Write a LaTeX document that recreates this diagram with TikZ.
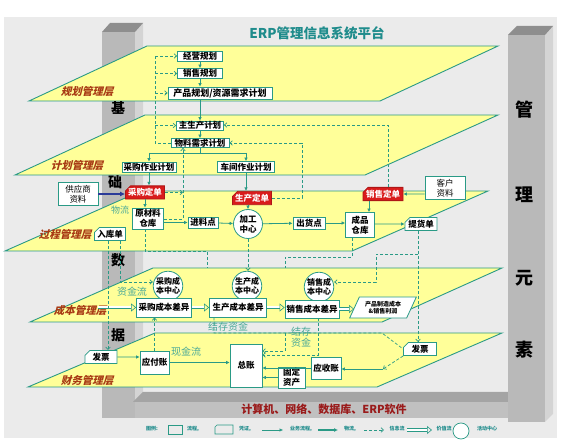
\documentclass[tikz,border=0pt]{standalone}
\usepackage{fontspec}
\newfontfamily\cjk{Noto Sans CJK SC}
\newfontfamily\cjksl[FakeSlant=0.25]{Noto Sans CJK SC}
\usetikzlibrary{arrows.meta,shapes.misc,shapes.geometric}
\definecolor{bgc}{HTML}{EBEBEB}
\definecolor{lay}{HTML}{FFFF99}
\definecolor{lc}{HTML}{2A9A86}
\definecolor{tc}{HTML}{1F8C8C}
\definecolor{ordc}{HTML}{D91C1C}
\definecolor{labc}{HTML}{A83A14}
\definecolor{pfr}{HTML}{B9B9B9}
\definecolor{psd}{HTML}{D4D4D4}
\definecolor{ptp}{HTML}{8E8E8E}
\definecolor{navy}{HTML}{2B3A99}
\definecolor{dred}{HTML}{9A1B1B}
\tikzset{
  layer/.style={fill=lay,draw=lc,line width=.9pt},
  box/.style={draw=lc,fill=white,line width=.8pt,inner sep=0pt,align=center,
    font=\cjk\bfseries\fontsize{8.5}{9.5}\selectfont},
  voucher/.style={box,chamfered rectangle,chamfered rectangle corners=north west,
    chamfered rectangle xsep=2.5pt,chamfered rectangle ysep=2.5pt},
  order/.style={voucher,fill=ordc,draw=ordc!80!black,text=white},
  hub/.style={box,circle,minimum size=29pt,font=\cjk\bfseries\fontsize{8}{9.5}\selectfont},
  biz/.style={draw=lc,line width=.8pt,-{Latex[length=3.5pt,width=3.5pt]}},
  info/.style={draw=lc,line width=.7pt,dash pattern=on 3pt off 2pt,
    -{Straight Barb[length=2.5pt,width=4.5pt]}},
  infol/.style={draw=lc,line width=.7pt,dash pattern=on 3pt off 2pt},
  val/.style={draw=lc,line width=.6pt,double=white,double distance=2pt,
    -{Triangle[open,length=5pt,width=8pt]}},
  lname/.style={text=labc,font=\cjksl\bfseries\fontsize{10.5}{11}\selectfont},
  fnote/.style={text=lc!85!white,font=\cjk\fontsize{10}{11}\selectfont},
  pch/.style={font=\cjk\bfseries\fontsize{14}{14}\selectfont},
  mch/.style={font=\cjk\bfseries\fontsize{18}{18}\selectfont},
  lgd/.style={text=tc,font=\cjk\bfseries\fontsize{5}{5}\selectfont}
}
\begin{document}
\begin{tikzpicture}[x=1pt,y=-1pt]
\useasboundingbox (0,0) rectangle (566,443);
\fill[bgc] (4,17) rectangle (557,438);
% pillars and base
\fill[pfr] (102,32) rectangle (135,418);
\fill[psd] (135,32) -- (143,23) -- (143,410) -- (135,418) -- cycle;
\fill[ptp] (102,32) -- (110,23) -- (143,23) -- (135,32) -- cycle;
\fill[pfr!90!white] (135,402) rectangle (508,418);
\fill[ptp!80!white] (133,402) -- (143,392) -- (508,392) -- (508,402) -- cycle;
\fill[pfr] (508,35) rectangle (545,422);
\fill[psd] (545,35) -- (553,26) -- (553,414) -- (545,422) -- cycle;
\fill[ptp] (508,35) -- (517,26) -- (553,26) -- (545,35) -- cycle;
% layers
\draw[layer] (147,46) -- (498,46) -- (380,101) -- (29,101) -- cycle;
\draw[layer] (145,115) -- (498,115) -- (365,175) -- (15,175) -- cycle;
\draw[layer] (141,191) -- (488,191) -- (352,251) -- (5,251) -- cycle;
\draw[layer] (153,268) -- (502,268) -- (382,322) -- (30,322) -- cycle;
\draw[layer] (155,333) -- (502,333) -- (377,387) -- (28,387) -- cycle;

\node[text=tc,font=\cjk\bfseries\fontsize{13.5}{14}\selectfont] (title) at (317,33) {ERP管理信息系统平台};
\node[text=dred,font=\cjk\bfseries\fontsize{11}{11}\selectfont] (soft) at (324,409) {计算机、网络、数据库、ERP软件};
\node[pch] (j1) at (118,108) {基};
\node[pch] (j2) at (115,182) {础};
\node[pch] (j3) at (118,260) {数};
\node[pch] (j4) at (118,335) {据};
\node[mch] (m1) at (524,110) {管};
\node[mch] (m2) at (524,195) {理};
\node[mch] (m3) at (524,278) {元};
\node[mch] (m4) at (524,350) {素};

\node[lname] (l1) at (87,92) {规划管理层};
\node[lname] (l2) at (77,166) {计划管理层};
\node[lname] (l3) at (65,235) {过程管理层};
\node[lname] (l4) at (80,311) {成本管理层};
\node[lname] (l5) at (87,381) {财务管理层};

% planning
\node[box,minimum width=45pt,minimum height=10pt] (jy) at (200,56) {经营规划};
\node[box,minimum width=45pt,minimum height=10pt] (xs) at (200,73.5) {销售规划};
\node[box,minimum width=104pt,minimum height=12pt,font=\cjk\bfseries\fontsize{9}{10}\selectfont] (cp) at (220,93) {产品规划/资源需求计划};
\node[box,minimum width=47pt,minimum height=9pt] (zsc) at (200,125.5) {主生产计划};
\node[box,minimum width=58pt,minimum height=9pt] (wl) at (200,143) {物料需求计划};
\node[box,minimum width=54pt,minimum height=10pt] (cg) at (149,167) {采购作业计划};
\node[box,minimum width=57pt,minimum height=11pt] (cj) at (246,167) {车间作业计划};
% process
\node[box,minimum width=40pt,minimum height=23pt,font=\cjk\fontsize{8.5}{10}\selectfont] (gys) at (78,194) {供应商\\资料};
\node[order,minimum width=39pt,minimum height=11pt] (cgd) at (145,192.5) {采购定单};
\node[order,minimum width=39pt,minimum height=11pt] (scd) at (252,198) {生产定单};
\node[order,minimum width=40pt,minimum height=12pt] (xsd) at (383,194) {销售定单};
\node[box,minimum width=40pt,minimum height=23pt,font=\cjk\fontsize{8.5}{10}\selectfont] (kh) at (445,188) {客户\\资料};
\node[box,minimum width=31pt,minimum height=21pt] (ycl) at (148,218.5) {原材料\\仓库};
\node[box,minimum width=30pt,minimum height=11pt] (jl) at (203,222.5) {进料点};
\node[hub,font=\cjk\bfseries\fontsize{8.5}{10}\selectfont] (jg) at (248,224) {加工\\中心};
\node[box,minimum width=32pt,minimum height=12pt] (ch) at (309,223) {出货点};
\node[box,minimum width=29pt,minimum height=25pt] (cpk) at (360,225) {成品\\仓库};
\node[voucher,minimum width=32pt,minimum height=12pt] (th) at (421,224) {提货单};
\node[voucher,minimum width=31pt,minimum height=12pt] (rk) at (110,234) {入库单};
\node[fnote,font=\cjk\fontsize{9}{9}\selectfont] (wlt) at (120,210) {物流};
% cost
\node[hub,minimum size=28pt] (cgc) at (168,286) {采购成\\本中心};
\node[hub,minimum size=28pt] (scc) at (247,286) {生产成\\本中心};
\node[hub,minimum size=28pt] (xsc) at (319,287) {销售成\\本中心};
\node[box,minimum width=55pt,minimum height=19pt] (cgy) at (164,307.5) {采购成本差异};
\node[box,minimum width=57pt,minimum height=19pt] (scy) at (238,307.5) {生产成本差异};
\node[box,minimum width=54pt,minimum height=18pt] (xsy) at (312,309) {销售成本差异};
\node[box,trapezium,trapezium left angle=60,trapezium right angle=120,trapezium stretches=true,
  minimum width=67pt,minimum height=21pt,font=\cjk\bfseries\fontsize{6}{7}\selectfont] (lr) at (383,307.5) {产品制造成本\\\&销售利润};
\node[fnote] (zjl) at (132,292) {资金流};
% finance
\node[voucher,minimum width=32pt,minimum height=12pt] (fp1) at (101,357) {发票};
\node[box,minimum width=29pt,minimum height=23pt] (yf) at (154.5,362.5) {应付账};
\node[box,minimum width=32pt,minimum height=43pt] (zz) at (246,365.5) {总账};
\node[box,minimum width=27pt,minimum height=21pt] (gd) at (291.5,377.5) {固定\\资产};
\node[box,minimum width=30pt,minimum height=22pt] (ys) at (326,368) {应收账};
\node[voucher,minimum width=33pt,minimum height=13pt] (fp2) at (420,349) {发票};
\node[fnote] (xjl) at (186,352) {现金流};
\node[fnote] (jc1) at (228,327) {结存资金};
\node[fnote,align=center,font=\cjk\fontsize{10}{11}\selectfont] (jc2) at (301,337.5) {结存\\资金};

% business flow
\coordinate (br) at (200,153);
\coordinate (jz) at (383,369);
\draw[biz] (jy) -- (xs);
\draw[biz] (xs) -- (xs |- cp.north);
\draw[biz] (zsc |- cp.south) -- (zsc);
\draw[biz] (zsc) -- (wl);
\draw[lc,line width=.8pt] (wl) -- (br) (br -| cg) -- (br -| cj);
\draw[biz] (br -| cg) -- (cg);
\draw[biz] (br -| cj) -- (cj);
\draw[biz] (cg.south) -- (cg.south |- cgd.north);
\draw[biz] (cj.south) -- (cj.south |- scd.north);
\draw[biz] (cgd.south) -- (cgd.south |- ycl.north);
\draw[biz] (ycl.east |- jl) -- (jl);
\draw[biz] (jl) -- (jg);
\draw[biz] (jg) -- (ch);
\draw[biz] (ch) -- (ch -| cpk.west);
\draw[biz] (cpk.east |- th) -- (th);
\draw[biz] (scd.south -| jg) -- (jg);
\draw[biz] (kh.west |- xsd) -- (xsd);
\draw[biz] ([xshift=-14pt]xsd.south) -- ([xshift=-14pt]xsd.south |- cpk.north);
\draw[navy,line width=1.6pt,-{Latex[length=5pt,width=5pt]}] (gys.east) -- (gys.east -| cgd.west);
\draw[biz] (fp1) -- (fp1 -| yf.west);
\draw[biz] (yf) -- (yf -| zz.west);
\draw[biz] (ys) -- (ys -| zz.east);
\draw[biz] (gd) -- (gd -| zz.east);
\draw[biz] (jz) -- (jz -| ys.east);
% value flow
\coordinate (vs) at (98,307.5);
\draw[val] (vs) -- (cgy);
\draw[val] (cgy) -- (scy);
\draw[val] (scy) -- (scy -| xsy.west);
\draw[val] (xsy) -- (xsy -| lr.west);
% information flow
\coordinate (lt) at (155,56);
\coordinate (lb) at (155,143);
\coordinate (ra) at (388,125);
\coordinate (rb) at (302,143);
\coordinate (mc) at (183,219);
\coordinate (kb) at (120,282);
\coordinate (pa) at (145,251);
\coordinate (pb) at (207,251);
\coordinate (pc) at (207,268);
\coordinate (qa) at (352,257);
\coordinate (qb) at (285,257);
\coordinate (qc) at (285,268);
\coordinate (ta) at (418,254);
\coordinate (tb) at (376,254);
\coordinate (tc) at (376,282);
\coordinate (sa) at (214,333);
\coordinate (sb) at (382,333);
\coordinate (sc) at (285,351);
\coordinate (sd) at (318,355);
\draw[infol] (wl.west) -- (lb) -- (lt);
\draw[info] (lt) -- (jy);
\draw[info] (lt |- xs) -- (xs);
\draw[info] (lt |- cp) -- (cp);
\draw[info] (lt |- zsc) -- (zsc);
\draw[info] (xsd.north -| ra) -- (ra) -- (ra -| zsc.east);
\draw[info] (scd.east) -- (scd.east -| rb) -- (rb) -- (rb -| wl.east);
\draw[info] (ycl.east |- mc) -- (mc) -- (mc |- wl.south);
\draw[info] (cgd.east) -- (cgd.east -| mc);
\draw[info] ([xshift=-2pt]rk.south) -- ([xshift=-2pt]rk.south |- fp1.north);
\draw[info] (rk.south -| kb) -- (kb) -- (kb -| cgc.west);
\draw[infol] (ycl.south -| pa) -- (pa) -- (pb) -- (pc);
\draw[info] (jg.south) -- (jg.south |- scc.north);
\draw[infol] (cpk.south -| qa) -- (qa) -- (qb) -- (qc);
\draw[info] (th.south -| ta) -- (ta |- fp2.north);
\draw[info] (ta) -- (tb) -- (tc) -- (tc -| xsc.east);
\draw[info] (yf.north) -- (yf.north |- cgy.south);
\draw[infol] (scy.south -| sa) -- (sa) -- (sb) -- (fp2.west);
\draw[info] (sa -| sc) -- (sc) -- (sc -| zz.east);
\draw[info] (xsy.south -| sd) -- (sd) -- (sd -| zz.east);
\draw[info] (fp2.south west) -- (jz);

% legend
\node[lgd] (lg0) at (152,429) {图例:};
\draw[lc,line width=.6pt] (168,425) rectangle (182,434);
\node[lgd] (lg1) at (193,429) {流程,};
\draw[lc,line width=.6pt] (215,427) -- (217,425) -- (233,425) -- (233,434) -- (215,434) -- cycle;
\node[lgd] (lg2) at (245,429) {凭证,};
\draw[biz,line width=.5pt] (262,430) -- (283,430);
\node[lgd] (lg3) at (301,429) {业务流程,};
\draw[lc,line width=1.3pt,-{Latex[length=4pt,width=4pt]}] (318,430) -- (338,430);
\node[lgd] (lg4) at (350,429) {物流,};
\draw[info] (364,430) -- (384,430);
\node[lgd] (lg5) at (397,429) {信息流};
\draw[val] (407,430) -- (432,430);
\node[lgd] (lg6) at (444,429) {价值流};
\draw[lc,line width=.7pt,fill=white] (461,431) circle (8);
\node[lgd] (lg7) at (487,429) {活动中心};
\end{tikzpicture}
\end{document}
